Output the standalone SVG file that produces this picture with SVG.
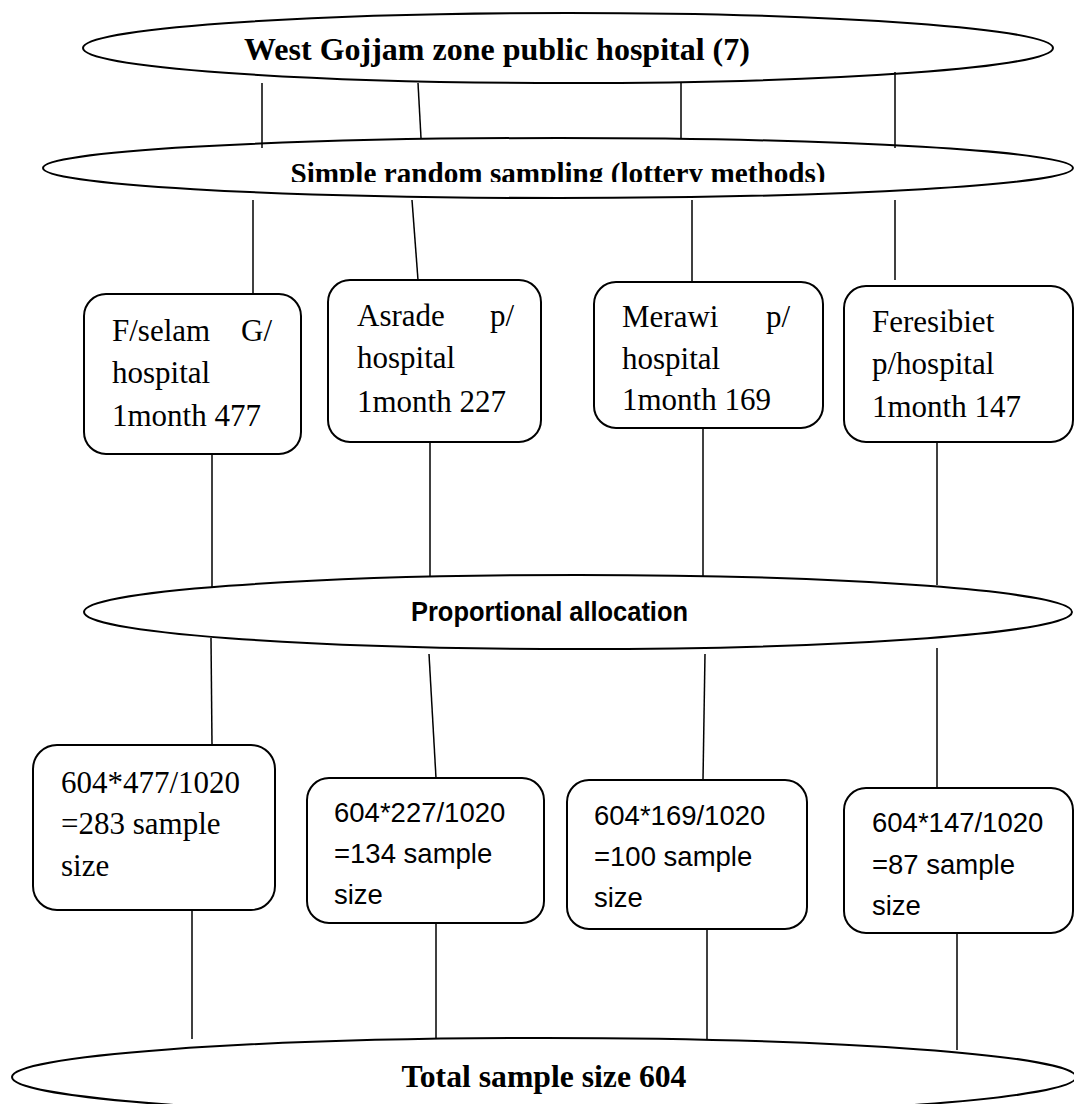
<svg xmlns="http://www.w3.org/2000/svg" width="1074" height="1104" viewBox="0 0 1074 1104">
<style>
.ell{fill:#fff;stroke:#000;stroke-width:2}
.box{fill:#fff;stroke:#000;stroke-width:2}
.con line{stroke:#000;stroke-width:1.5}
.tb{font-family:"Liberation Serif","Times New Roman",serif;font-weight:bold;fill:#000}
.tr{font-family:"Liberation Serif","Times New Roman",serif;font-size:31px;fill:#000}
.ts{font-family:"Liberation Sans",Arial,sans-serif;font-size:27.5px;fill:#000}
</style>
<defs>
<clipPath id="clip2"><rect x="0" y="0" width="1074" height="182"/></clipPath>
</defs>
<rect width="1074" height="1104" fill="#fff"/>
<g id="n-top">
<ellipse class="ell" cx="568" cy="48" rx="485" ry="35"/>
<text class="tb" x="497" y="60" font-size="32" text-anchor="middle">West Gojjam zone public hospital (7)</text>
</g>
<g id="n-srs">
<ellipse class="ell" cx="558" cy="168" rx="515" ry="30"/>
<text class="tb" x="558" y="183" font-size="29.2" text-anchor="middle" clip-path="url(#clip2)">Simple random sampling (lottery methods)</text>
</g>
<g id="n-fselam">
<rect class="box" x="84" y="294" width="217" height="160" rx="22"/>
<text class="tr" x="112" y="341">F/selam</text>
<text class="tr" x="272" y="341" text-anchor="end">G/</text>
<text class="tr" x="112" y="383">hospital</text>
<text class="tr" x="112" y="426">1month 477</text>
</g>
<g id="n-asrade">
<rect class="box" x="328" y="280" width="213" height="162" rx="22"/>
<text class="tr" x="357" y="326">Asrade</text>
<text class="tr" x="514" y="326" text-anchor="end">p/</text>
<text class="tr" x="357" y="368">hospital</text>
<text class="tr" x="357" y="412">1month 227</text>
</g>
<g id="n-merawi">
<rect class="box" x="594" y="282" width="229" height="146" rx="22"/>
<text class="tr" x="622" y="327">Merawi</text>
<text class="tr" x="790" y="327" text-anchor="end">p/</text>
<text class="tr" x="622" y="369">hospital</text>
<text class="tr" x="622" y="410">1month 169</text>
</g>
<g id="n-feresibiet">
<rect class="box" x="844" y="286" width="229" height="156" rx="22"/>
<text class="tr" x="872" y="332">Feresibiet</text>
<text class="tr" x="872" y="374">p/hospital</text>
<text class="tr" x="872" y="417">1month 147</text>
</g>
<g id="n-prop">
<ellipse class="ell" cx="578" cy="612" rx="494" ry="37"/>
<text x="411" y="621" font-family="Liberation Sans, Arial, sans-serif" font-weight="bold" font-size="27" textLength="277" lengthAdjust="spacingAndGlyphs">Proportional allocation</text>
</g>
<g id="n-s1">
<rect class="box" x="33" y="745" width="242" height="165" rx="24"/>
<text class="tr" x="61" y="793" font-size="32">604*477/1020</text>
<text class="tr" x="61" y="834" font-size="32">=283 sample</text>
<text class="tr" x="61" y="876" font-size="32">size</text>
</g>
<g id="n-s2">
<rect class="box" x="307" y="778" width="237" height="145" rx="22"/>
<text class="ts" x="334" y="822">604*227/1020</text>
<text class="ts" x="334" y="863">=134 sample</text>
<text class="ts" x="334" y="904">size</text>
</g>
<g id="n-s3">
<rect class="box" x="567" y="780" width="240" height="149" rx="22"/>
<text class="ts" x="594" y="825">604*169/1020</text>
<text class="ts" x="594" y="866">=100 sample</text>
<text class="ts" x="594" y="907">size</text>
</g>
<g id="n-s4">
<rect class="box" x="844" y="788" width="229" height="145" rx="22"/>
<text class="ts" x="872" y="832">604*147/1020</text>
<text class="ts" x="872" y="874">=87 sample</text>
<text class="ts" x="872" y="915">size</text>
</g>
<g id="n-total">
<ellipse class="ell" cx="544" cy="1077" rx="532" ry="39"/>
<text class="tb" x="544" y="1087" font-size="31.7" text-anchor="middle">Total sample size 604</text>
</g>
<g id="connectors" class="con">
<line x1="262" y1="83" x2="262" y2="148"/>
<line x1="418" y1="83" x2="421" y2="138"/>
<line x1="681" y1="83" x2="681" y2="138"/>
<line x1="895" y1="72" x2="895" y2="148"/>
<line x1="253" y1="200" x2="253" y2="294"/>
<line x1="412" y1="200" x2="418" y2="280"/>
<line x1="692" y1="200" x2="692" y2="282"/>
<line x1="895" y1="200" x2="895" y2="280"/>
<line x1="212" y1="454" x2="212" y2="588"/>
<line x1="430" y1="442" x2="430" y2="576"/>
<line x1="703" y1="428" x2="703" y2="576"/>
<line x1="937" y1="442" x2="937" y2="585"/>
<line x1="211" y1="638" x2="212" y2="745"/>
<line x1="429" y1="654" x2="436" y2="778"/>
<line x1="705" y1="654" x2="703" y2="780"/>
<line x1="937" y1="648" x2="937" y2="788"/>
<line x1="192" y1="910" x2="192" y2="1039"/>
<line x1="436" y1="923" x2="436" y2="1038"/>
<line x1="707" y1="929" x2="707" y2="1040"/>
<line x1="957" y1="933" x2="957" y2="1050"/>
</g>
</svg>
